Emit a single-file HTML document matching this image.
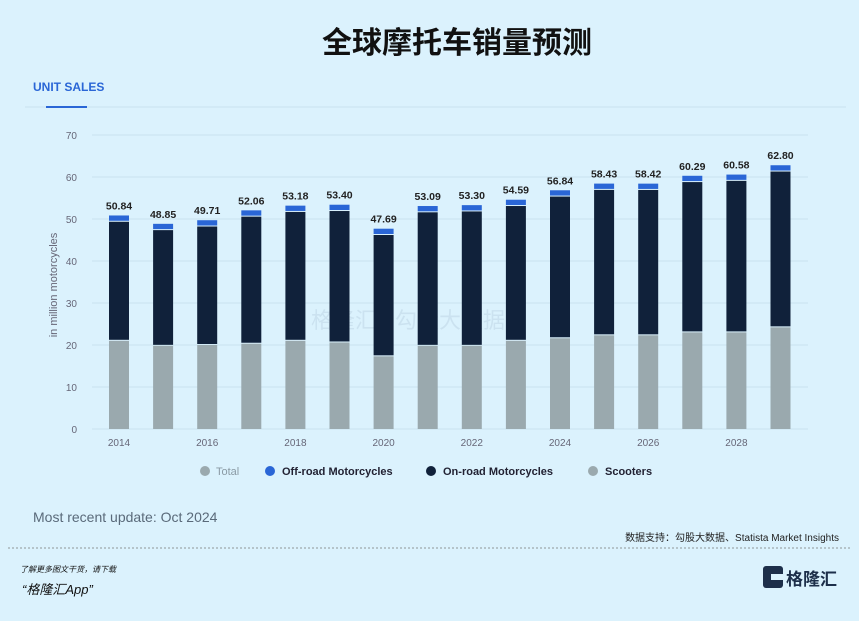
<!DOCTYPE html>
<html><head><meta charset="utf-8"><style>
body{margin:0;width:859px;height:621px;background:#dbf2fd;overflow:hidden;font-family:"Liberation Sans","Noto Sans CJK SC",sans-serif;}
svg{position:absolute;left:0;top:0}
</style></head><body>
<svg id="s" width="859" height="621" xmlns="http://www.w3.org/2000/svg">
<text x="457" y="53" text-anchor="middle" font-size="30" font-weight="bold" fill="#111" font-family="Liberation Sans,Noto Sans CJK SC,sans-serif">全球摩托车销量预测</text>
<text x="33" y="91" font-size="12" font-weight="bold" fill="#2a66d6">UNIT SALES</text>
<line x1="25" y1="107" x2="846" y2="107" stroke="#c9e2ee" stroke-width="1"/>
<rect x="46" y="106" width="41" height="2" fill="#2a66d6"/>
<text x="57" y="285" font-size="11" fill="#667" transform="rotate(-90 57 285)" text-anchor="middle">in million motorcycles</text>
<text x="311" y="328" font-size="22" fill="#c2d9e8" opacity="0.6">格隆汇 | 勾股大数据</text>
<g id="g"></g>
<g font-size="11" fill="#556">
<circle cx="205" cy="471" r="5" fill="#9aa9ae"/><text x="216" y="475" fill="#8a9aa4">Total</text>
<circle cx="270" cy="471" r="5" fill="#2a66d6"/><text x="282" y="475" fill="#223" font-weight="bold">Off-road Motorcycles</text>
<circle cx="431" cy="471" r="5" fill="#10213a"/><text x="443" y="475" fill="#223" font-weight="bold">On-road Motorcycles</text>
<circle cx="593" cy="471" r="5" fill="#9aa9ae"/><text x="605" y="475" fill="#223" font-weight="bold">Scooters</text>
</g>
<text x="33" y="522" font-size="14" fill="#5a6a7a">Most recent update: Oct 2024</text>
<text x="839" y="541" font-size="10" fill="#222" text-anchor="end">数据支持：勾股大数据、Statista Market Insights</text>
<line x1="8" y1="548" x2="851" y2="548" stroke="#777" stroke-dasharray="2,2" stroke-width="0.8"/>
<text x="20" y="572" font-size="8" fill="#111" font-style="italic">了解更多图文干货，请下载</text>
<text x="22" y="594" font-size="13" fill="#111" font-style="italic">“格隆汇App”</text>
<rect x="763" y="566" width="20" height="22" rx="3" fill="#1d2f4a"/>
<rect x="771" y="574" width="12" height="6" fill="#dbf2fd"/>
<text x="786" y="585" font-size="17" font-weight="bold" fill="#1d2f4a">格隆汇</text>
</svg>
<script>
var g=document.getElementById('g'),h='';
function y(v){return 429-v*4.2}
for(var i=0;i<=7;i++){var yy=y(i*10);h+='<line x1="92" y1="'+yy+'" x2="808" y2="'+yy+'" stroke="#c9e2ee"/><text x="77" y="'+(yy+4)+'" font-size="10" fill="#667" text-anchor="end">'+(i*10)+'</text>';}
var T=[50.84,48.85,49.71,52.06,53.18,53.40,47.69,53.09,53.30,54.59,56.84,58.43,58.42,60.29,60.58,62.80];
var S=[21,19.8,20,20.3,21,20.6,17.3,19.8,19.8,21,21.6,22.3,22.3,23,23,24.2];
for(var i=0;i<16;i++){var cx=119+i*44.1,x=cx-10;
h+='<rect x="'+x+'" y="'+y(S[i])+'" width="20" height="'+(S[i]*4.2)+'" fill="#9aa9ae"/>';
var on=T[i]-1.5;
h+='<rect x="'+x+'" y="'+y(on)+'" width="20" height="'+((on-S[i])*4.2-1)+'" fill="#10213a"/>';
h+='<rect x="'+x+'" y="'+y(T[i])+'" width="20" height="'+(1.5*4.2-1)+'" fill="#2a66d6"/>';
h+='<text x="'+cx+'" y="'+(y(T[i])-6)+'" font-size="10.5" font-weight="bold" fill="#222" text-anchor="middle">'+T[i].toFixed(2)+'</text>';
if(i%2==0)h+='<text x="'+cx+'" y="446" font-size="10" fill="#667" text-anchor="middle">'+(2014+i)+'</text>';}
g.innerHTML=h;
</script>
</body></html>
